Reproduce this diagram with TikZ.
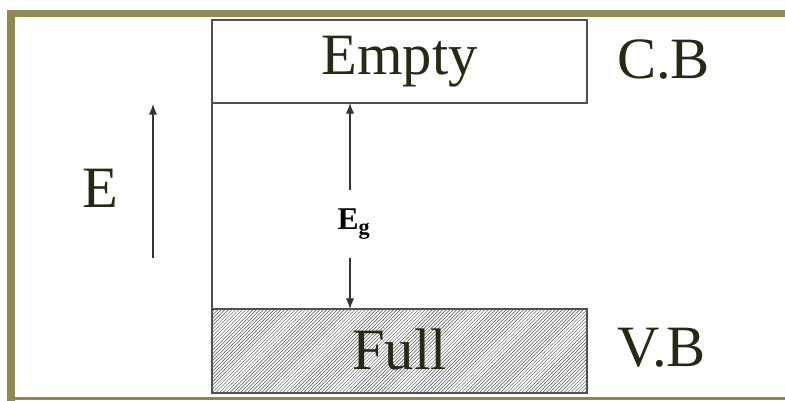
\documentclass[tikz,border=0pt]{standalone}
\usepackage{fontspec}
\setmainfont{Liberation Serif}
\usetikzlibrary{calc,arrows.meta,patterns}
\definecolor{frameolive}{RGB}{142,136,82}
\definecolor{textdark}{RGB}{40,40,20}
\definecolor{bandgray}{RGB}{80,80,80}
\tikzset{
  bandline/.style = {draw = bandgray, line width = 1.3pt},
  bigtext/.style = {text = textdark, font = \fontsize{50}{60}\selectfont, inner sep = 0pt},
  gaparrow/.style = {draw = black!80, line width = 1pt, -{Latex[length=9pt, width=7pt]}}
}
\begin{document}
\begin{tikzpicture}[x = 0.03cm, y = -0.03cm]
    \useasboundingbox (0,0) rectangle (785,401);
    \fill[white] (0,0) rectangle (785,401);
    % frame
    \path[draw, frameolive, line width = 6pt](11,401)to(11,13.5)to(785,13.5);
    \path[draw, frameolive, line width = 2.2pt](7,398.5)to(785,398.5);
    % conduction band
    \coordinate(CBtl)at(212,20);
    \coordinate(CBbr)at(587,103);
    \path[bandline, fill = white](CBtl)rectangle(CBbr);
    \node[bigtext](empty)at($(CBtl)!0.5!(CBbr)$){Empty};
    \node[bigtext, anchor = west](cb)at(617,60){C.B};
    % valence band
    \coordinate(VBtl)at(212,309);
    \coordinate(VBbr)at(587,393);
    \path[bandline, pattern = north east lines, pattern color = bandgray](VBtl)rectangle(VBbr);
    \node[bigtext](full)at($(VBtl)!0.5!(VBbr)+(0,-2)$){Full};
    \node[bigtext, anchor = west](vb)at(617,348){V.B};
    % left side of the gap
    \coordinate(CBbl)at(212,103);
    \path[bandline](CBbl)to(VBtl);
    % energy gap
    \coordinate(gaptop)at(350,103);
    \coordinate(gapbot)at(350,309);
    \node[text = black, font = \fontsize{27}{30}\selectfont\bfseries, inner sep = 0pt](eg)at(354,224){E\textsubscript{g}};
    \coordinate(egup)at(350,190);
    \coordinate(egdown)at(350,258);
    \path[gaparrow](egup)to(gaptop);
    \path[gaparrow](egdown)to(gapbot);
    % energy axis
    \coordinate(Ebot)at(153,258);
    \coordinate(Etop)at(153,104);
    \path[gaparrow](Ebot)to(Etop);
    \node[bigtext](elabel)at(100,188){E};
\end{tikzpicture}
\end{document}
